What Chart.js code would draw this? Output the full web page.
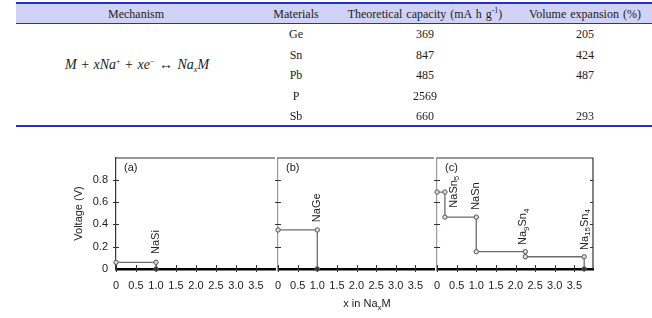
<!DOCTYPE html>
<html>
<head>
<meta charset="utf-8">
<script src="https://cdn.jsdelivr.net/npm/chart.js@4.4.0/dist/chart.umd.min.js"></script>
<style>
html, body { margin: 0; padding: 0; background: #fff; }
#page { position: relative; width: 652px; height: 318px; overflow: hidden;
        font-family: "Liberation Serif", "Times New Roman", serif; color: #222; }
.t { position: absolute; transform: translate(-50%, -50%); white-space: nowrap;
     font-size: 12px; line-height: 1; word-spacing: 1px; }
.t sup { font-size: 8px; vertical-align: 5px; line-height: 0; }
.t sub { font-size: 8px; vertical-align: -3px; line-height: 0; }
.rule { position: absolute; left: 16px; width: 640px; background: #2330c6; }
#hdr { position: absolute; left: 16px; top: 4px; width: 640px; height: 19px; background: #d0d2f6; }
canvas { position: absolute; top: 140px; }
#xtitle { position: absolute; left: 367px; top: 303px; transform: translate(-50%, -50%);
          font: 11px "Liberation Sans", Arial, sans-serif; color: #222; white-space: nowrap; }
#xtitle sub { font-size: 8px; vertical-align: -3px; line-height: 0; }
</style>
</head>
<body>
<div id="page">
  <div id="hdr"></div>
  <div class="rule" style="top:2px;height:2px"></div>
  <div class="rule" style="top:23px;height:1px"></div>
  <div class="rule" style="top:125px;height:2px"></div>
  <div class="t" style="left:137px;top:65px;font-size:14px;word-spacing:1px">
    <i>M</i> + <i>x</i><i>Na</i><sup>+</sup> + <i>xe</i><sup>&minus;</sup> &harr; <i>Na<sub>x</sub>M</i>
  </div>
  <canvas id="pa" width="285" height="178" style="left:0"></canvas>
  <canvas id="pb" width="179" height="178" style="left:265px"></canvas>
  <canvas id="pc" width="179" height="178" style="left:424px"></canvas>
  <div id="xtitle">x in Na<sub>x</sub>M</div>
</div>

<script>
// table
var headers = ['Mechanism', 'Materials', 'Theoretical capacity (mA h g<sup>-1</sup>)', 'Volume expansion (%)'];
var materials = ['Ge', 'Sn', 'Pb', 'P', 'Sb'];
var capacity = ['369', '847', '485', '2569', '660'];
var expansion = ['205', '424', '487', '', '293'];

// chart (x in Na_xM, voltage in V)
var naSiX = [0, 1, 1];
var naSiV = [0.06, 0.06, 0];
var naGeX = [0, 1, 1];
var naGeV = [0.35, 0.35, 0];
var naSnX = [0, 0.2, 0.2, 1, 1, 2.25, 2.25, 3.75, 3.75];
var naSnV = [0.69, 0.69, 0.465, 0.465, 0.155, 0.155, 0.11, 0.11, 0];
var panelTags = ['(a)', '(b)', '(c)'];
var phaseA = [{ t: 'NaSi', x: 1, y: 0.135 }];
var phaseB = [{ t: 'NaGe', x: 1, y: 0.42 }];
var phaseC = [
  { t: 'NaSn_5', x: 0.43, y: 0.55 },
  { t: 'NaSn', x: 1, y: 0.53 },
  { t: 'Na_9Sn_4', x: 2.2, y: 0.215 },
  { t: 'Na_15Sn_4', x: 3.76, y: 0.17 }
];

var colX = [136, 296, 425, 585];
var rowY = [34, 54.5, 75, 95.5, 116];
var page = document.getElementById('page');
function cell(html, x, y) {
  var d = document.createElement('div');
  d.className = 't';
  d.style.left = x + 'px';
  d.style.top = y + 'px';
  d.innerHTML = html;
  page.appendChild(d);
}
headers.forEach(function(h, i) { cell(h, colX[i], 14); });
materials.forEach(function(m, i) {
  cell(m, colX[1], rowY[i]);
  cell(capacity[i], colX[2], rowY[i]);
  if (expansion[i]) cell(expansion[i], colX[3], rowY[i]);
});

Chart.defaults.font.family = '"Liberation Sans", Arial, sans-serif';
Chart.defaults.font.size = 11;
Chart.defaults.color = '#222';

// frame, small tick marks, panel tag, phase names
var marks = {
  id: 'marks',
  beforeDatasetsDraw: function(chart, args, o) {
    var ctx = chart.ctx, a = chart.chartArea, x = chart.scales.x, y = chart.scales.y;
    ctx.save();
    ctx.strokeStyle = '#333';
    ctx.lineWidth = 1.2;
    ctx.beginPath();
    ctx.moveTo(a.left, a.top);
    ctx.lineTo(a.right, a.top);
    if (o.right) ctx.lineTo(a.right, a.bottom);
    ctx.stroke();
    ctx.lineWidth = 1;
    y.ticks.forEach(function(t) {
      if (t.value === 0) return;
      var py = Math.round(y.getPixelForValue(t.value)) + 0.5;
      ctx.beginPath();
      ctx.moveTo(a.left - 3, py);
      ctx.lineTo(a.left + 3, py);
      if (o.right) { ctx.moveTo(a.right - 3, py); ctx.lineTo(a.right, py); }
      ctx.stroke();
    });
    x.ticks.forEach(function(t) {
      var px = Math.round(x.getPixelForValue(t.value)) + 0.5;
      ctx.beginPath();
      ctx.moveTo(px, a.bottom - 4);
      ctx.lineTo(px, a.bottom + 3);
      ctx.stroke();
    });
    ctx.fillStyle = '#222';
    ctx.font = '11px "Liberation Sans", Arial, sans-serif';
    ctx.textAlign = 'left';
    ctx.textBaseline = 'middle';
    ctx.fillText(o.tag, a.left + 8, a.top + 10);
    ctx.restore();
  },
  afterDatasetsDraw: function(chart, args, o) {
    var ctx = chart.ctx, x = chart.scales.x, y = chart.scales.y;
    ctx.save();
    ctx.fillStyle = '#222';
    ctx.textAlign = 'left';
    ctx.textBaseline = 'middle';
    o.labels.forEach(function(l) {
      ctx.save();
      ctx.translate(x.getPixelForValue(l.x), y.getPixelForValue(l.y));
      ctx.rotate(-Math.PI / 2);
      var cx = 0;
      l.t.split(/(_\d+)/).forEach(function(s) {
        if (!s) return;
        var sub = s.charAt(0) === '_';
        var txt = sub ? s.slice(1) : s;
        ctx.font = (sub ? '8px' : '11px') + ' "Liberation Sans", Arial, sans-serif';
        ctx.fillText(txt, cx, sub ? 3 : 0);
        cx += ctx.measureText(txt).width;
      });
      ctx.restore();
    });
    ctx.restore();
  }
};

function panel(id, xs, vs, tag, labels, first, last) {
  var pts = xs.map(function(v, i) { return { x: v, y: vs[i] }; });
  return new Chart(document.getElementById(id), {
    type: 'line',
    data: {
      datasets: [{
        data: pts,
        borderColor: '#6c6c6c',
        borderWidth: 1.3,
        pointRadius: 2.2,
        pointBorderWidth: 1,
        pointBorderColor: '#555',
        pointBackgroundColor: function(c) { return c.raw && c.raw.y === 0 ? '#333' : '#ddd'; },
        tension: 0,
        clip: false
      }]
    },
    options: {
      responsive: false,
      animation: false,
      devicePixelRatio: 1,
      layout: { padding: { left: first ? 68 : 10, right: 10, top: 18, bottom: 0 } },
      plugins: {
        legend: { display: false },
        tooltip: { enabled: false },
        marks: { tag: tag, labels: labels, right: last }
      },
      scales: {
        x: {
          type: 'linear',
          min: 0,
          max: 3.975,
          grid: { display: false, drawTicks: false },
          border: { display: true, color: '#000', width: 2.5 },
          ticks: { stepSize: 0.5, includeBounds: false, padding: 10, maxRotation: 0, autoSkip: false },
          afterFit: function(s) { s.height = 49; }
        },
        y: {
          min: 0,
          max: 0.995,
          grid: { display: false, drawTicks: false },
          border: { display: true, color: first ? '#333' : '#999', width: 1.2 },
          ticks: { display: first, stepSize: 0.2, includeBounds: false, padding: 8 },
          title: { display: first, text: 'Voltage (V)', padding: { top: 4, bottom: 0 }, font: { size: 11 } },
          afterFit: function(s) { s.width = first ? 48 : 0; }
        }
      }
    },
    plugins: [marks]
  });
}

panel('pa', naSiX, naSiV, panelTags[0], phaseA, true, false);
panel('pb', naGeX, naGeV, panelTags[1], phaseB, false, false);
panel('pc', naSnX, naSnV, panelTags[2], phaseC, false, true);
</script>
</body>
</html>
